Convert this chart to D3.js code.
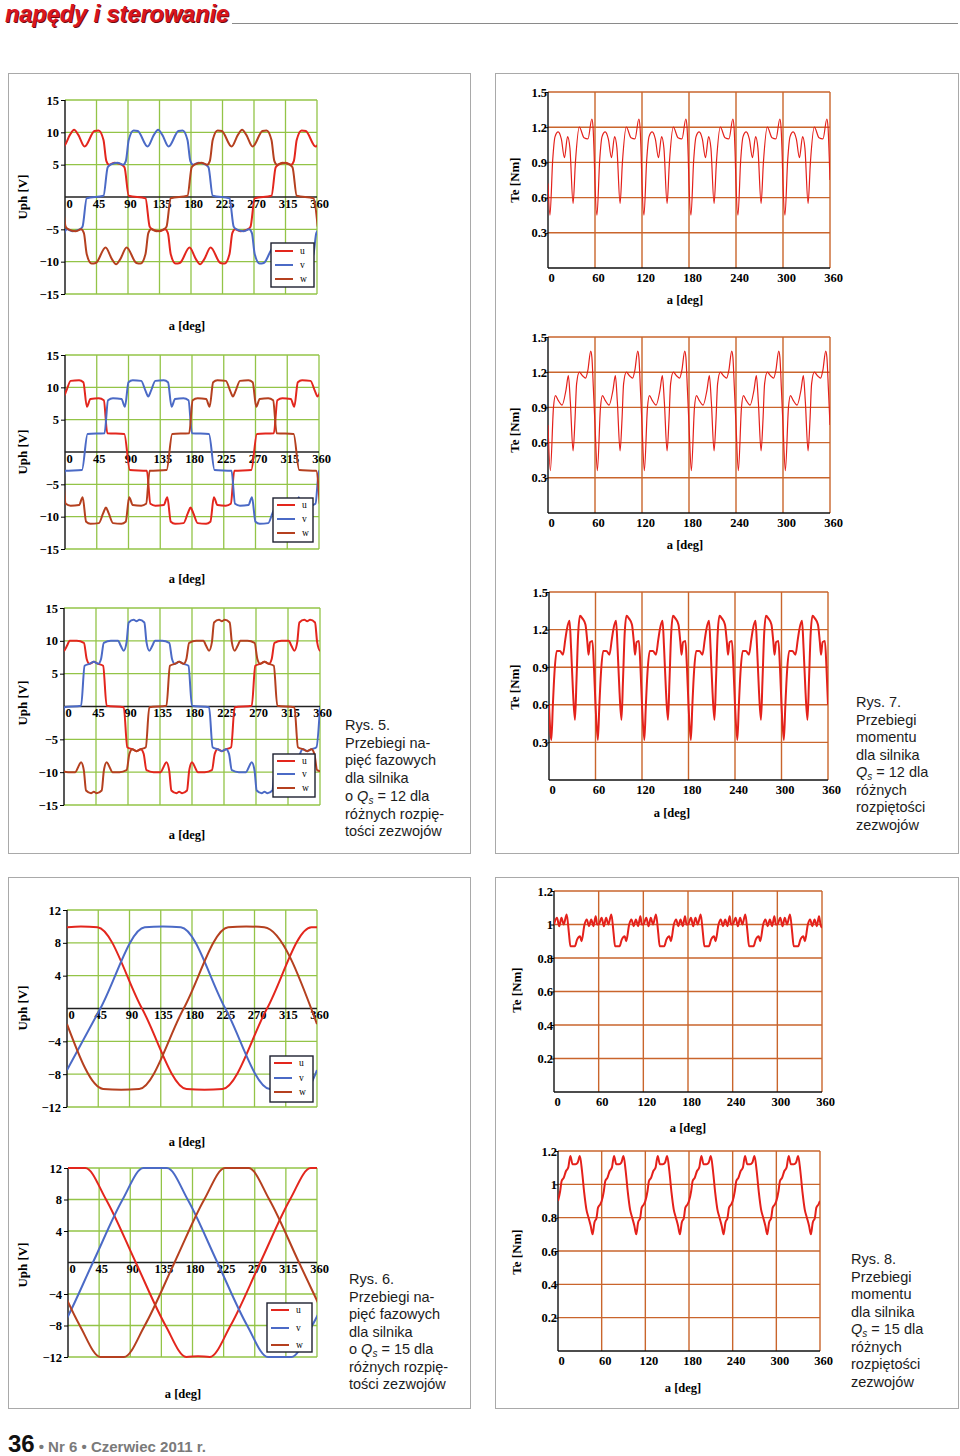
<!DOCTYPE html>
<html>
<head>
<meta charset="utf-8">
<script src="https://cdn.jsdelivr.net/npm/d3@7"></script>
<style>
  body { margin: 0; background: #fff; }
</style>
</head>
<body>
<script>
// ---- axes / ticks ----
const phaseAngles = [0, 45, 90, 135, 180, 225, 270, 315, 360];
const torqueAngles = [0, 60, 120, 180, 240, 300, 360];
const uph15Ticks = [-15, -10, -5, 0, 5, 10, 15];
const uph12Ticks = [-12, -8, -4, 0, 4, 8, 12];
const te15Ticks = [0, 0.3, 0.6, 0.9, 1.2, 1.5];
const te12Ticks = [0, 0.2, 0.4, 0.6, 0.8, 1, 1.2];
const phaseNames = ['u', 'v', 'w'];

// ---- Rys. 5, Qs = 12 : phase voltages [deg, V] ----
const l1U = [[-22,10.3],[-16,10.2],[-2,7.8],[7,9.6],[13,10.4],[19,9.6],[28,7.8],[42,10.2],[48,10.3],[55,8.8],[59,5.6],[63,5.0],[71,5.3],[81,5.0],[85,4.6],[91,0.2],[115,-0.2],[121,-4.6],[125,-5.0],[135,-5.3],[143,-5.0],[147,-5.6],[151,-8.8],[158,-10.3],[164,-10.2],[178,-7.8],[187,-9.6],[193,-10.4],[199,-9.6],[208,-7.8],[222,-10.2],[228,-10.3],[235,-8.8],[239,-5.6],[243,-5.0],[251,-5.3],[261,-5.0],[265,-4.6],[271,-0.2],[295,0.2],[301,4.6],[305,5.0],[315,5.3],[323,5.0],[327,5.6],[331,8.8],[338,10.3],[344,10.2],[358,7.8],[367,9.6]];
const l1V = [[-12,-10.3],[-5,-8.8],[-1,-5.6],[3,-5.0],[11,-5.3],[21,-5.0],[25,-4.6],[31,-0.2],[55,0.2],[61,4.6],[65,5.0],[75,5.3],[83,5.0],[87,5.6],[91,8.8],[98,10.3],[104,10.2],[118,7.8],[127,9.6],[133,10.4],[139,9.6],[148,7.8],[162,10.2],[168,10.3],[175,8.8],[179,5.6],[183,5.0],[191,5.3],[201,5.0],[205,4.6],[211,0.2],[235,-0.2],[241,-4.6],[245,-5.0],[255,-5.3],[263,-5.0],[267,-5.6],[271,-8.8],[278,-10.3],[284,-10.2],[298,-7.8],[307,-9.6],[313,-10.4],[319,-9.6],[328,-7.8],[342,-10.2],[348,-10.3],[355,-8.8],[359,-5.6],[363,-5.0]];
const l1W = [[-29,0.2],[-5,-0.2],[1,-4.6],[5,-5.0],[15,-5.3],[23,-5.0],[27,-5.6],[31,-8.8],[38,-10.3],[44,-10.2],[58,-7.8],[67,-9.6],[73,-10.4],[79,-9.6],[88,-7.8],[102,-10.2],[108,-10.3],[115,-8.8],[119,-5.6],[123,-5.0],[131,-5.3],[141,-5.0],[145,-4.6],[151,-0.2],[175,0.2],[181,4.6],[185,5.0],[195,5.3],[203,5.0],[207,5.6],[211,8.8],[218,10.3],[224,10.2],[238,7.8],[247,9.6],[253,10.4],[259,9.6],[268,7.8],[282,10.2],[288,10.3],[295,8.8],[299,5.6],[303,5.0],[311,5.3],[321,5.0],[325,4.6],[331,0.2],[355,-0.2],[361,-4.6]];

const l2U = [[-12,11.0],[-6,9.5],[-2,8.6],[2,9.5],[8,11.0],[20,11.1],[26,10.8],[31,7.0],[36,8.2],[48,8.3],[55,8.0],[60,2.9],[84,2.8],[92,-2.8],[116,-2.9],[121,-8.0],[128,-8.3],[140,-8.2],[145,-7.0],[150,-10.8],[156,-11.1],[168,-11.0],[174,-9.5],[178,-8.6],[182,-9.5],[188,-11.0],[200,-11.1],[206,-10.8],[211,-7.0],[216,-8.2],[228,-8.3],[235,-8.0],[240,-2.9],[264,-2.8],[272,2.8],[296,2.9],[301,8.0],[308,8.3],[320,8.2],[325,7.0],[330,10.8],[336,11.1],[348,11.0],[354,9.5],[358,8.6],[362,9.5]];
const l2V = [[-12,-8.3],[-5,-8.0],[0,-2.9],[24,-2.8],[32,2.8],[56,2.9],[61,8.0],[68,8.3],[80,8.2],[85,7.0],[90,10.8],[96,11.1],[108,11.0],[114,9.5],[118,8.6],[122,9.5],[128,11.0],[140,11.1],[146,10.8],[151,7.0],[156,8.2],[168,8.3],[175,8.0],[180,2.9],[204,2.8],[212,-2.8],[236,-2.9],[241,-8.0],[248,-8.3],[260,-8.2],[265,-7.0],[270,-10.8],[276,-11.1],[288,-11.0],[294,-9.5],[298,-8.6],[302,-9.5],[308,-11.0],[320,-11.1],[326,-10.8],[331,-7.0],[336,-8.2],[348,-8.3],[355,-8.0],[360,-2.9],[384,-2.8]];
const l2W = [[-36,2.8],[-28,-2.8],[-4,-2.9],[1,-8.0],[8,-8.3],[20,-8.2],[25,-7.0],[30,-10.8],[36,-11.1],[48,-11.0],[54,-9.5],[58,-8.6],[62,-9.5],[68,-11.0],[80,-11.1],[86,-10.8],[91,-7.0],[96,-8.2],[108,-8.3],[115,-8.0],[120,-2.9],[144,-2.8],[152,2.8],[176,2.9],[181,8.0],[188,8.3],[200,8.2],[205,7.0],[210,10.8],[216,11.1],[228,11.0],[234,9.5],[238,8.6],[242,9.5],[248,11.0],[260,11.1],[266,10.8],[271,7.0],[276,8.2],[288,8.3],[295,8.0],[300,2.9],[324,2.8],[332,-2.8],[356,-2.9],[361,-8.0]];

const l3U = [[-14,13.2],[-7,12.8],[-4,9.8],[0,8.5],[4,9.2],[8,10.0],[18,10.0],[28,9.7],[32,7.2],[36,6.5],[42,6.8],[48,6.5],[55,6.2],[60,0.1],[84,-0.1],[89,-6.2],[96,-6.5],[102,-6.8],[108,-6.5],[112,-7.2],[116,-9.7],[126,-10.0],[136,-10.0],[140,-9.2],[144,-8.5],[148,-9.8],[151,-12.8],[158,-13.2],[162,-13.0],[166,-13.2],[173,-12.8],[176,-9.8],[180,-8.5],[184,-9.2],[188,-10.0],[198,-10.0],[208,-9.7],[212,-7.2],[216,-6.5],[222,-6.8],[228,-6.5],[235,-6.2],[240,-0.1],[264,0.1],[269,6.2],[276,6.5],[282,6.8],[288,6.5],[292,7.2],[296,9.7],[306,10.0],[316,10.0],[320,9.2],[324,8.5],[328,9.8],[331,12.8],[338,13.2],[342,13.0],[346,13.2],[353,12.8],[356,9.8],[360,8.5],[364,9.2]];
const l3V = [[-12,-6.5],[-5,-6.2],[0,-0.1],[24,0.1],[29,6.2],[36,6.5],[42,6.8],[48,6.5],[52,7.2],[56,9.7],[66,10.0],[76,10.0],[80,9.2],[84,8.5],[88,9.8],[91,12.8],[98,13.2],[102,13.0],[106,13.2],[113,12.8],[116,9.8],[120,8.5],[124,9.2],[128,10.0],[138,10.0],[148,9.7],[152,7.2],[156,6.5],[162,6.8],[168,6.5],[175,6.2],[180,0.1],[204,-0.1],[209,-6.2],[216,-6.5],[222,-6.8],[228,-6.5],[232,-7.2],[236,-9.7],[246,-10.0],[256,-10.0],[260,-9.2],[264,-8.5],[268,-9.8],[271,-12.8],[278,-13.2],[282,-13.0],[286,-13.2],[293,-12.8],[296,-9.8],[300,-8.5],[304,-9.2],[308,-10.0],[318,-10.0],[328,-9.7],[332,-7.2],[336,-6.5],[342,-6.8],[348,-6.5],[355,-6.2],[360,-0.1]];
const l3W = [[-12,-6.5],[-8,-7.2],[-4,-9.7],[6,-10.0],[16,-10.0],[20,-9.2],[24,-8.5],[28,-9.8],[31,-12.8],[38,-13.2],[42,-13.0],[46,-13.2],[53,-12.8],[56,-9.8],[60,-8.5],[64,-9.2],[68,-10.0],[78,-10.0],[88,-9.7],[92,-7.2],[96,-6.5],[102,-6.8],[108,-6.5],[115,-6.2],[120,-0.1],[144,0.1],[149,6.2],[156,6.5],[162,6.8],[168,6.5],[172,7.2],[176,9.7],[186,10.0],[196,10.0],[200,9.2],[204,8.5],[208,9.8],[211,12.8],[218,13.2],[222,13.0],[226,13.2],[233,12.8],[236,9.8],[240,8.5],[244,9.2],[248,10.0],[258,10.0],[268,9.7],[272,7.2],[276,6.5],[282,6.8],[288,6.5],[295,6.2],[300,0.1],[324,-0.1],[329,-6.2],[336,-6.5],[342,-6.8],[348,-6.5],[352,-7.2],[356,-9.7],[366,-10.0]];

// ---- Rys. 6, Qs = 15 : phase voltages [deg, V] ----
const l4U = [[0,9.9],[20,10.0],[44,9.9],[108,0],[172,-9.8],[198,-9.9],[224,-9.8],[288,0],[352,9.9],[360,9.9]];
const l4V = [[0,-7.5],[48,0],[112,9.9],[138,10.0],[164,9.9],[228,0],[292,-9.8],[318,-9.9],[344,-9.8],[360,-7.5]];
const l4W = [[0,-1.9],[52,-9.8],[78,-9.9],[104,-9.8],[168,0],[232,9.9],[258,10.0],[284,9.9],[360,-1.9]];

const l5U = [[-39,8],[-9,12],[0,12],[25,12],[55,8],[98,0],[141,-8],[171,-12],[188,-11.9],[205,-12],[235,-8],[278,0],[321,8],[351,12],[360,12]];
const l5V = [[-37,-12],[-7,-8],[36,0],[79,8],[109,12],[126,12],[143,12],[173,8],[216,0],[259,-8],[289,-12],[306,-12],[323,-12],[353,-8],[396,0]];
const l5W = [[-69,8],[-26,0],[17,-8],[47,-12],[64,-12],[81,-12],[111,-8],[154,0],[197,8],[227,12],[244,12],[261,12],[291,8],[334,0],[377,-8]];

// ---- Rys. 7, Qs = 12 : torque [deg, Nm] ----
const r1Te = [
  [0,.72],[2.5,.45],[6,.92],[9,1.12],[13,1.16],[17,1.1],[21,.94],[25,1.12],[28,1.02],[32,.55],[35,.9],[40,1.2],[46,1.11],[51,1.1],[56,1.27],[57.5,1.2],[59,.95],
  [60,.72],[62.5,.45],[66,.92],[69,1.12],[73,1.16],[77,1.1],[81,.94],[85,1.12],[88,1.02],[92,.55],[95,.9],[100,1.2],[106,1.11],[111,1.1],[116,1.27],[117.5,1.2],[119,.95],
  [120,.72],[122.5,.45],[126,.92],[129,1.12],[133,1.16],[137,1.1],[141,.94],[145,1.12],[148,1.02],[152,.55],[155,.9],[160,1.2],[166,1.11],[171,1.1],[176,1.27],[177.5,1.2],[179,.95],
  [180,.72],[182.5,.45],[186,.92],[189,1.12],[193,1.16],[197,1.1],[201,.94],[205,1.12],[208,1.02],[212,.55],[215,.9],[220,1.2],[226,1.11],[231,1.1],[236,1.27],[237.5,1.2],[239,.95],
  [240,.72],[242.5,.45],[246,.92],[249,1.12],[253,1.16],[257,1.1],[261,.94],[265,1.12],[268,1.02],[272,.55],[275,.9],[280,1.2],[286,1.11],[291,1.1],[296,1.27],[297.5,1.2],[299,.95],
  [300,.72],[302.5,.45],[306,.92],[309,1.12],[313,1.16],[317,1.1],[321,.94],[325,1.12],[328,1.02],[332,.55],[335,.9],[340,1.2],[346,1.11],[351,1.1],[356,1.27],[357.5,1.2],[359,.95],
  [360,.75]];
const r2Te = [
  [0,.75],[3,.36],[7,.9],[9.5,1.0],[13,.96],[18,.92],[23,1.05],[26,1.17],[28.5,.95],[32,.53],[34.5,.8],[36.5,1.1],[40,1.2],[44,1.17],[48,1.15],[51,1.22],[54.5,1.38],[56,1.33],[58,1.05],
  [60,.75],[63,.36],[67,.9],[69.5,1.0],[73,.96],[78,.92],[83,1.05],[86,1.17],[88.5,.95],[92,.53],[94.5,.8],[96.5,1.1],[100,1.2],[104,1.17],[108,1.15],[111,1.22],[114.5,1.38],[116,1.33],[118,1.05],
  [120,.75],[123,.36],[127,.9],[129.5,1.0],[133,.96],[138,.92],[143,1.05],[146,1.17],[148.5,.95],[152,.53],[154.5,.8],[156.5,1.1],[160,1.2],[164,1.17],[168,1.15],[171,1.22],[174.5,1.38],[176,1.33],[178,1.05],
  [180,.75],[183,.36],[187,.9],[189.5,1.0],[193,.96],[198,.92],[203,1.05],[206,1.17],[208.5,.95],[212,.53],[214.5,.8],[216.5,1.1],[220,1.2],[224,1.17],[228,1.15],[231,1.22],[234.5,1.38],[236,1.33],[238,1.05],
  [240,.75],[243,.36],[247,.9],[249.5,1.0],[253,.96],[258,.92],[263,1.05],[266,1.17],[268.5,.95],[272,.53],[274.5,.8],[276.5,1.1],[280,1.2],[284,1.17],[288,1.15],[291,1.22],[294.5,1.38],[296,1.33],[298,1.05],
  [300,.75],[303,.36],[307,.9],[309.5,1.0],[313,.96],[318,.92],[323,1.05],[326,1.17],[328.5,.95],[332,.53],[334.5,.8],[336.5,1.1],[340,1.2],[344,1.17],[348,1.15],[351,1.22],[354.5,1.38],[356,1.33],[358,1.05],
  [360,.75]];
const r3Te = [
  [0,.6],[3,.32],[5,.6],[7,.85],[10,1.03],[14,1.03],[18,1.0],[21,1.12],[23,1.2],[26.5,1.27],[28.5,1.05],[31,.7],[33.5,.48],[35.5,.8],[37.5,1.15],[40,1.31],[43,1.29],[47,1.24],[49.5,1.1],[51,1.0],[53,1.1],[56,1.11],[58,.9],
  [60,.6],[63,.32],[65,.6],[67,.85],[70,1.03],[74,1.03],[78,1.0],[81,1.12],[83,1.2],[86.5,1.27],[88.5,1.05],[91,.7],[93.5,.48],[95.5,.8],[97.5,1.15],[100,1.31],[103,1.29],[107,1.24],[109.5,1.1],[111,1.0],[113,1.1],[116,1.11],[118,.9],
  [120,.6],[123,.32],[125,.6],[127,.85],[130,1.03],[134,1.03],[138,1.0],[141,1.12],[143,1.2],[146.5,1.27],[148.5,1.05],[151,.7],[153.5,.48],[155.5,.8],[157.5,1.15],[160,1.31],[163,1.29],[167,1.24],[169.5,1.1],[171,1.0],[173,1.1],[176,1.11],[178,.9],
  [180,.6],[183,.32],[185,.6],[187,.85],[190,1.03],[194,1.03],[198,1.0],[201,1.12],[203,1.2],[206.5,1.27],[208.5,1.05],[211,.7],[213.5,.48],[215.5,.8],[217.5,1.15],[220,1.31],[223,1.29],[227,1.24],[229.5,1.1],[231,1.0],[233,1.1],[236,1.11],[238,.9],
  [240,.6],[243,.32],[245,.6],[247,.85],[250,1.03],[254,1.03],[258,1.0],[261,1.12],[263,1.2],[266.5,1.27],[268.5,1.05],[271,.7],[273.5,.48],[275.5,.8],[277.5,1.15],[280,1.31],[283,1.29],[287,1.24],[289.5,1.1],[291,1.0],[293,1.1],[296,1.11],[298,.9],
  [300,.6],[303,.32],[305,.6],[307,.85],[310,1.03],[314,1.03],[318,1.0],[321,1.12],[323,1.2],[326.5,1.27],[328.5,1.05],[331,.7],[333.5,.48],[335.5,.8],[337.5,1.15],[340,1.31],[343,1.29],[347,1.24],[349.5,1.1],[351,1.0],[353,1.1],[356,1.11],[358,.9],
  [360,.6]];

// ---- Rys. 8, Qs = 15 : torque [deg, Nm] ----
const r4Te = [
  [0,1.0],[4,1.04],[7,.99],[10,1.04],[13,1.0],[17,1.06],[20,.95],[22,.87],[28,.87],[31,.91],[35,.93],[37,.9],[41,1.0],[44,1.03],[47,.99],[50,1.03],[53,.99],[56,1.05],[58,1.0],
  [60,1.0],[64,1.04],[67,.99],[70,1.04],[73,1.0],[77,1.06],[80,.95],[82,.87],[88,.87],[91,.91],[95,.93],[97,.9],[101,1.0],[104,1.03],[107,.99],[110,1.03],[113,.99],[116,1.05],[118,1.0],
  [120,1.0],[124,1.04],[127,.99],[130,1.04],[133,1.0],[137,1.06],[140,.95],[142,.87],[148,.87],[151,.91],[155,.93],[157,.9],[161,1.0],[164,1.03],[167,.99],[170,1.03],[173,.99],[176,1.05],[178,1.0],
  [180,1.0],[184,1.04],[187,.99],[190,1.04],[193,1.0],[197,1.06],[200,.95],[202,.87],[208,.87],[211,.91],[215,.93],[217,.9],[221,1.0],[224,1.03],[227,.99],[230,1.03],[233,.99],[236,1.05],[238,1.0],
  [240,1.0],[244,1.04],[247,.99],[250,1.04],[253,1.0],[257,1.06],[260,.95],[262,.87],[268,.87],[271,.91],[275,.93],[277,.9],[281,1.0],[284,1.03],[287,.99],[290,1.03],[293,.99],[296,1.05],[298,1.0],
  [300,1.0],[304,1.04],[307,.99],[310,1.04],[313,1.0],[317,1.06],[320,.95],[322,.87],[328,.87],[331,.91],[335,.93],[337,.9],[341,1.0],[344,1.03],[347,.99],[350,1.03],[353,.99],[356,1.05],[358,1.0],
  [360,.98]];
const r5Te = [
  [0,.9],[3,.96],[5,1.02],[8,1.04],[11,1.08],[14,1.1],[17,1.17],[20,1.12],[24,1.12],[27,1.13],[30,1.17],[33,1.08],[36,.95],[39,.85],[42,.8],[45,.75],[47.5,.7],[50,.77],[53,.8],[55,.86],[58,.88],
  [60,.9],[63,.96],[65,1.02],[68,1.04],[71,1.08],[74,1.1],[77,1.17],[80,1.12],[84,1.12],[87,1.13],[90,1.17],[93,1.08],[96,.95],[99,.85],[102,.8],[105,.75],[107.5,.7],[110,.77],[113,.8],[115,.86],[118,.88],
  [120,.9],[123,.96],[125,1.02],[128,1.04],[131,1.08],[134,1.1],[137,1.17],[140,1.12],[144,1.12],[147,1.13],[150,1.17],[153,1.08],[156,.95],[159,.85],[162,.8],[165,.75],[167.5,.7],[170,.77],[173,.8],[175,.86],[178,.88],
  [180,.9],[183,.96],[185,1.02],[188,1.04],[191,1.08],[194,1.1],[197,1.17],[200,1.12],[204,1.12],[207,1.13],[210,1.17],[213,1.08],[216,.95],[219,.85],[222,.8],[225,.75],[227.5,.7],[230,.77],[233,.8],[235,.86],[238,.88],
  [240,.9],[243,.96],[245,1.02],[248,1.04],[251,1.08],[254,1.1],[257,1.17],[260,1.12],[264,1.12],[267,1.13],[270,1.17],[273,1.08],[276,.95],[279,.85],[282,.8],[285,.75],[287.5,.7],[290,.77],[293,.8],[295,.86],[298,.88],
  [300,.9],[303,.96],[305,1.02],[308,1.04],[311,1.08],[314,1.1],[317,1.17],[320,1.12],[324,1.12],[327,1.13],[330,1.17],[333,1.08],[336,.95],[339,.85],[342,.8],[345,.75],[347.5,.7],[350,.77],[353,.8],[355,.86],[358,.88],
  [360,.9]];

// ---- captions ----
const rys5Lines = ['Rys. 5.', 'Przebiegi na-', 'pięć fazowych', 'dla silnika', 'o Qs = 12 dla', 'różnych rozpię-', 'tości zezwojów'];
const rys7Lines = ['Rys. 7.', 'Przebiegi', 'momentu', 'dla silnika', 'Qs = 12 dla', 'różnych', 'rozpiętości', 'zezwojów'];
const rys6Lines = ['Rys. 6.', 'Przebiegi na-', 'pięć fazowych', 'dla silnika', 'o Qs = 15 dla', 'różnych rozpię-', 'tości zezwojów'];
const rys8Lines = ['Rys. 8.', 'Przebiegi', 'momentu', 'dla silnika', 'Qs = 15 dla', 'różnych', 'rozpiętości', 'zezwojów'];

// ---- styles ----
const serif = '"Liberation Serif","DejaVu Serif",serif';
const sans = '"Liberation Sans",Arial,sans-serif';
const gridGreen = '#93c447';
const gridOrange = '#c9652c';
const phaseColors = { u: '#e3261d', v: '#4b6ac6', w: '#b5401f' };
const torqueColor = '#e4211b';
const tickSize = 12.5;

const svg = d3.select('body').append('svg')
  .attr('width', 960).attr('height', 1456)
  .style('display', 'block');

let clipCount = 0;
const minus = d => (d < 0 ? '\u2212' + (-d) : '' + d);

// header
svg.append('text').attr('x', 6).attr('y', 23)
  .attr('font-family', '"Liberation Sans Narrow","Liberation Sans",sans-serif')
  .attr('font-weight', 'bold').attr('font-style', 'italic').attr('font-size', 24)
  .attr('textLength', 224).attr('lengthAdjust', 'spacingAndGlyphs')
  .attr('fill', '#6e0a0d').text('napędy i sterowanie');
svg.append('text').attr('x', 5).attr('y', 22)
  .attr('font-family', '"Liberation Sans Narrow","Liberation Sans",sans-serif')
  .attr('font-weight', 'bold').attr('font-style', 'italic').attr('font-size', 24)
  .attr('textLength', 224).attr('lengthAdjust', 'spacingAndGlyphs')
  .attr('fill', '#d9161f').text('napędy i sterowanie');
svg.append('line').attr('x1', 232).attr('x2', 958).attr('y1', 23.5).attr('y2', 23.5)
  .attr('stroke', '#8a8a8a').attr('stroke-width', 1.2);

// panels
[[8.5, 73.5, 462, 780], [495.5, 73.5, 463, 780], [8.5, 877.5, 462, 531], [495.5, 877.5, 463, 531]]
  .forEach(p => svg.append('rect').attr('x', p[0]).attr('y', p[1]).attr('width', p[2]).attr('height', p[3])
    .attr('fill', 'none').attr('stroke', '#a9a9a9').attr('stroke-width', 1));

function phaseChart(c) {
  const g = svg.append('g');
  const x = d3.scaleLinear().domain([0, 360]).range([c.left, c.right]);
  const y = d3.scaleLinear().domain([-c.max, c.max]).range([c.bottom, c.top]);

  g.append('g').selectAll('line').data(phaseAngles.slice(1)).join('line')
    .attr('x1', d => x(d)).attr('x2', d => x(d)).attr('y1', c.top).attr('y2', c.bottom)
    .attr('stroke', gridGreen).attr('stroke-width', 1.3);
  g.append('g').selectAll('line').data(c.ticks.filter(d => d !== 0)).join('line')
    .attr('x1', c.left).attr('x2', c.right).attr('y1', d => y(d)).attr('y2', d => y(d))
    .attr('stroke', gridGreen).attr('stroke-width', 1.3);
  g.append('line').attr('x1', c.left).attr('x2', c.left).attr('y1', c.top).attr('y2', c.bottom)
    .attr('stroke', '#111').attr('stroke-width', 1.4);
  g.append('line').attr('x1', c.left).attr('x2', c.right).attr('y1', y(0)).attr('y2', y(0))
    .attr('stroke', '#222').attr('stroke-width', 1.4);

  const ya = g.append('g').attr('transform', `translate(${c.left},0)`)
    .call(d3.axisLeft(y).tickValues(c.ticks.filter(d => d !== 0)).tickSize(4).tickPadding(2).tickFormat(minus));
  ya.select('.domain').remove();
  ya.attr('font-family', serif).attr('font-size', tickSize).attr('font-weight', 'bold');

  const xa = g.append('g').attr('transform', `translate(0,${y(0)})`)
    .call(d3.axisBottom(x).tickValues(phaseAngles).tickSize(0).tickPadding(2));
  xa.select('.domain').remove();
  xa.attr('font-family', serif).attr('font-size', tickSize).attr('font-weight', 'bold');
  xa.selectAll('text').attr('dx', d => (d === 0 ? 4 : 2));

  const id = 'clip' + (clipCount++);
  g.append('clipPath').attr('id', id).append('rect')
    .attr('x', c.left).attr('y', c.top - 3).attr('width', c.right - c.left).attr('height', c.bottom - c.top + 6);
  const line = d3.line().x(d => x(d[0])).y(d => y(d[1])).curve(d3.curveMonotoneX);
  c.series.forEach((s, i) => {
    g.append('path').attr('d', line(s)).attr('clip-path', `url(#${id})`)
      .attr('fill', 'none').attr('stroke', phaseColors[phaseNames[i]]).attr('stroke-width', 2);
  });

  const L = c.legend;
  g.append('rect').attr('x', L.x).attr('y', L.y).attr('width', L.w).attr('height', L.h)
    .attr('fill', '#fff').attr('stroke', '#1d2030').attr('stroke-width', 1.4);
  phaseNames.forEach((n, i) => {
    g.append('line').attr('x1', L.x + 4).attr('x2', L.x + 22).attr('y1', L.rows[i]).attr('y2', L.rows[i])
      .attr('stroke', phaseColors[n]).attr('stroke-width', 2);
    g.append('text').attr('x', L.x + 29).attr('y', L.rows[i] + 3)
      .attr('font-family', serif).attr('font-size', 9.5).text(n);
  });

  g.append('text').attr('transform', `translate(${c.ylab[0]},${c.ylab[1]}) rotate(-90)`)
    .attr('text-anchor', 'middle').attr('font-family', serif).attr('font-size', 13).attr('font-weight', 'bold')
    .text('Uph [V]');
  g.append('text').attr('x', c.xlab[0]).attr('y', c.xlab[1]).attr('text-anchor', 'middle')
    .attr('font-family', serif).attr('font-size', 12.5).attr('font-weight', 'bold').text('a [deg]');
}

function torqueChart(c) {
  const g = svg.append('g');
  const x = d3.scaleLinear().domain([0, 360]).range([c.left, c.right]);
  const y = d3.scaleLinear().domain([0, c.max]).range([c.bottom, c.top]);

  g.append('g').selectAll('line').data(torqueAngles.slice(1)).join('line')
    .attr('x1', d => x(d)).attr('x2', d => x(d)).attr('y1', c.top).attr('y2', c.bottom)
    .attr('stroke', gridOrange).attr('stroke-width', 1.4);
  g.append('g').selectAll('line').data(c.ticks.filter(d => d !== 0)).join('line')
    .attr('x1', c.left).attr('x2', c.right).attr('y1', d => y(d)).attr('y2', d => y(d))
    .attr('stroke', gridOrange).attr('stroke-width', 1.4);
  g.append('line').attr('x1', c.left).attr('x2', c.left).attr('y1', c.top).attr('y2', c.bottom)
    .attr('stroke', '#111').attr('stroke-width', 1.4);
  g.append('line').attr('x1', c.left).attr('x2', c.right).attr('y1', c.bottom).attr('y2', c.bottom)
    .attr('stroke', '#111').attr('stroke-width', 1.4);

  const ya = g.append('g').attr('transform', `translate(${c.left},0)`)
    .call(d3.axisLeft(y).tickValues(c.ticks.filter(d => d !== 0)).tickSize(3).tickPadding(-2)
      .tickFormat(d => (d === 1 ? '1' : d3.format('.1f')(d))));
  ya.select('.domain').remove();
  ya.attr('font-family', serif).attr('font-size', tickSize).attr('font-weight', 'bold');

  const xa = g.append('g').attr('transform', `translate(0,${c.bottom})`)
    .call(d3.axisBottom(x).tickValues(torqueAngles).tickSize(0).tickPadding(5));
  xa.select('.domain').remove();
  xa.attr('font-family', serif).attr('font-size', tickSize).attr('font-weight', 'bold');
  xa.selectAll('text').attr('dx', 3);

  const id = 'clip' + (clipCount++);
  g.append('clipPath').attr('id', id).append('rect')
    .attr('x', c.left).attr('y', c.top - 3).attr('width', c.right - c.left).attr('height', c.bottom - c.top + 3);
  const line = d3.line().x(d => x(d[0])).y(d => y(d[1])).curve(d3.curveMonotoneX);
  g.append('path').attr('d', line(c.data)).attr('clip-path', `url(#${id})`)
    .attr('fill', 'none').attr('stroke', torqueColor).attr('stroke-width', c.width);

  g.append('text').attr('transform', `translate(${c.ylab[0]},${c.ylab[1]}) rotate(-90)`)
    .attr('text-anchor', 'middle').attr('font-family', serif).attr('font-size', 13).attr('font-weight', 'bold')
    .text('Te [Nm]');
  g.append('text').attr('x', c.xlab[0]).attr('y', c.xlab[1]).attr('text-anchor', 'middle')
    .attr('font-family', serif).attr('font-size', 12.5).attr('font-weight', 'bold').text('a [deg]');
}

function caption(lines, x0, y0, step) {
  const t = svg.append('text').attr('font-family', sans).attr('font-size', 14.5).attr('fill', '#1c1c1c');
  lines.forEach((ln, i) => {
    const yy = y0 + i * step;
    if (ln.includes('Qs')) {
      const parts = ln.split('Qs');
      const row = svg.append('text').attr('x', x0).attr('y', yy)
        .attr('font-family', sans).attr('font-size', 14.5).attr('fill', '#1c1c1c');
      if (parts[0]) row.append('tspan').text(parts[0]);
      row.append('tspan').attr('font-style', 'italic').text('Q');
      row.append('tspan').attr('font-style', 'italic').attr('font-size', 10).attr('dy', 3).text('s');
      row.append('tspan').attr('dy', -3).text(parts[1]);
    } else {
      t.append('tspan').attr('x', x0).attr('y', yy).text(ln);
    }
  });
}

phaseChart({ left: 65, right: 317, top: 100, bottom: 294, max: 15, ticks: uph15Ticks, series: [l1U, l1V, l1W],
  legend: { x: 271, y: 243, w: 43, h: 44, rows: [251, 265, 279] }, ylab: [27, 197], xlab: [187, 330] });
phaseChart({ left: 65, right: 319, top: 355, bottom: 549, max: 15, ticks: uph15Ticks, series: [l2U, l2V, l2W],
  legend: { x: 273, y: 498, w: 40, h: 44, rows: [505, 519, 533] }, ylab: [27, 452], xlab: [187, 583] });
phaseChart({ left: 64, right: 320, top: 608, bottom: 805, max: 15, ticks: uph15Ticks, series: [l3U, l3V, l3W],
  legend: { x: 273, y: 754, w: 42, h: 43, rows: [761, 774, 788] }, ylab: [27, 703], xlab: [187, 839] });
phaseChart({ left: 67, right: 317, top: 910, bottom: 1107, max: 12, ticks: uph12Ticks, series: [l4U, l4V, l4W],
  legend: { x: 270, y: 1056, w: 43, h: 46, rows: [1063, 1078, 1092] }, ylab: [27, 1008], xlab: [187, 1146] });
phaseChart({ left: 68, right: 317, top: 1168, bottom: 1357, max: 12, ticks: uph12Ticks, series: [l5U, l5V, l5W],
  legend: { x: 267, y: 1303, w: 45, h: 49, rows: [1310, 1328, 1345] }, ylab: [27, 1265], xlab: [183, 1398] });

torqueChart({ left: 548, right: 830, top: 92, bottom: 268, max: 1.5, ticks: te15Ticks, data: r1Te, width: 1.2, ylab: [519, 180], xlab: [685, 304] });
torqueChart({ left: 548, right: 830, top: 337, bottom: 513, max: 1.5, ticks: te15Ticks, data: r2Te, width: 1.2, ylab: [519, 430], xlab: [685, 549] });
torqueChart({ left: 549, right: 828, top: 592, bottom: 780, max: 1.5, ticks: te15Ticks, data: r3Te, width: 2, ylab: [519, 687], xlab: [672, 817] });
torqueChart({ left: 554, right: 822, top: 891, bottom: 1092, max: 1.2, ticks: te12Ticks, data: r4Te, width: 2, ylab: [521, 990], xlab: [688, 1132] });
torqueChart({ left: 558, right: 820, top: 1151, bottom: 1351, max: 1.2, ticks: te12Ticks, data: r5Te, width: 2, ylab: [521, 1252], xlab: [683, 1392] });

caption(rys5Lines, 345, 730, 17.7);
caption(rys7Lines, 856, 707, 17.5);
caption(rys6Lines, 349, 1284, 17.5);
caption(rys8Lines, 851, 1264, 17.5);

// footer
const foot = svg.append('text').attr('x', 8).attr('y', 1452).attr('font-family', sans);
foot.append('tspan').attr('font-size', 24).attr('font-weight', 'bold').attr('fill', '#111').text('36');
foot.append('tspan').attr('font-size', 15).attr('font-weight', 'bold').attr('fill', '#7a7a7a').attr('dx', 4)
  .text('\u2022 Nr 6 \u2022 Czerwiec 2011 r.');
</script>
</body>
</html>
